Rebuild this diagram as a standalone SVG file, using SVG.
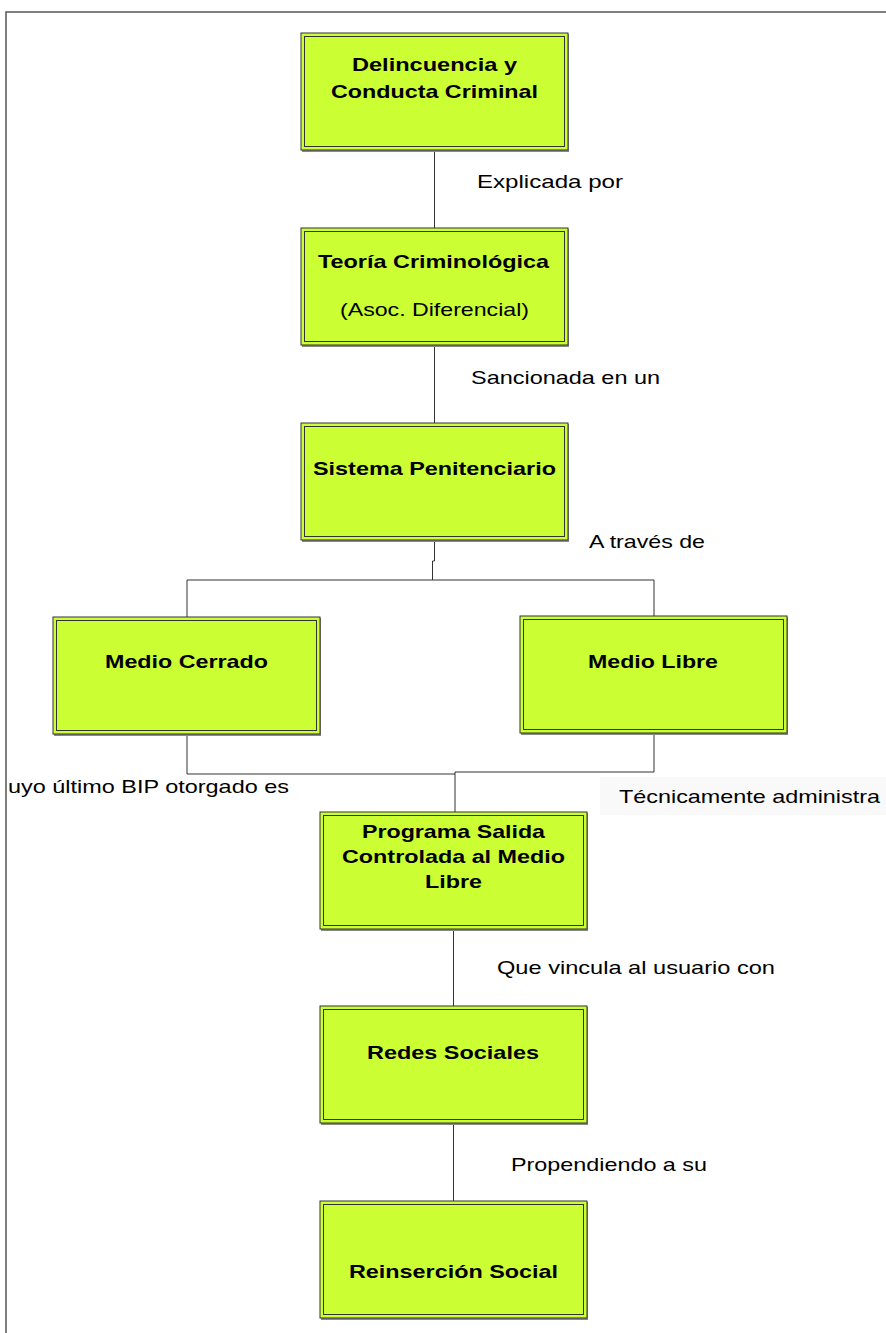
<svg xmlns="http://www.w3.org/2000/svg" width="886" height="1333" viewBox="0 0 886 1333">
<style>
.box{fill:#ccff33;stroke:#333;stroke-width:1}
.inner{fill:none;stroke:#333;stroke-width:1}
.shadow{fill:#888}
.t{font-family:"Liberation Sans",Arial,sans-serif;font-size:18.5px;font-weight:bold;fill:#000;text-anchor:middle}
.l{font-family:"Liberation Sans",Arial,sans-serif;font-size:18.5px;fill:#000}
.c{fill:none;stroke:#333;stroke-width:1}
</style>
<rect width="886" height="1333" fill="#fff"/>
<path d="M6,1333 V12 H886" fill="none" stroke="#555" stroke-width="1.5"/>

<g id="connectors">
<path class="c" d="M434.5,151 V228"/>
<path class="c" d="M434.5,346 V423"/>
<path class="c" d="M434.5,540 V561 H432.5 V580"/>
<path class="c" d="M187,617 V580 H654 V616"/>
<path class="c" d="M187,733 V774 H455"/>
<path class="c" d="M654,733 V772 H455 V812"/>
<path class="c" d="M453.5,929 V1006"/>
<path class="c" d="M453.5,1123 V1201"/>
</g>

<g id="labels">
<text class="l" x="477" y="188" textLength="146" lengthAdjust="spacingAndGlyphs">Explicada por</text>
<text class="l" x="471" y="384" textLength="189" lengthAdjust="spacingAndGlyphs">Sancionada en un</text>
<text class="l" x="589" y="548" textLength="116" lengthAdjust="spacingAndGlyphs">A través de</text>
<rect x="600" y="777" width="286" height="38" fill="#f9f9f9"/>
<text class="l" x="619" y="803" textLength="261" lengthAdjust="spacingAndGlyphs">Técnicamente administra</text>
<text class="l" x="8" y="793" textLength="281" lengthAdjust="spacingAndGlyphs">uyo último BIP otorgado es</text>
<text class="l" x="497" y="974" textLength="278" lengthAdjust="spacingAndGlyphs">Que vincula al usuario con</text>
<text class="l" x="511" y="1171" textLength="196" lengthAdjust="spacingAndGlyphs">Propendiendo a su</text>
</g>

<g id="n1">
<rect class="shadow" x="302" y="34" width="267" height="118"/>
<rect class="box" x="301" y="33" width="267" height="117"/>
<rect class="inner" x="304.5" y="36.5" width="260" height="110"/>
<text class="t" x="434.5" y="71" textLength="165" lengthAdjust="spacingAndGlyphs">Delincuencia y</text>
<text class="t" x="434.5" y="98" textLength="207" lengthAdjust="spacingAndGlyphs">Conducta Criminal</text>
</g>

<g id="n2">
<rect class="shadow" x="302" y="229" width="267" height="118"/>
<rect class="box" x="301" y="228" width="267" height="117"/>
<rect class="inner" x="304.5" y="231.5" width="260" height="110"/>
<text class="t" x="433.5" y="268" textLength="231" lengthAdjust="spacingAndGlyphs">Teoría Criminológica</text>
<text class="l" x="434.5" y="316" text-anchor="middle" textLength="189" lengthAdjust="spacingAndGlyphs">(Asoc. Diferencial)</text>
</g>

<g id="n3">
<rect class="shadow" x="302" y="424" width="267" height="118"/>
<rect class="box" x="301" y="423" width="267" height="117"/>
<rect class="inner" x="304.5" y="426.5" width="260" height="110"/>
<text class="t" x="434.5" y="475" textLength="243" lengthAdjust="spacingAndGlyphs">Sistema Penitenciario</text>
</g>

<g id="n4">
<rect class="shadow" x="54" y="618" width="267" height="118"/>
<rect class="box" x="53" y="617" width="267" height="117"/>
<rect class="inner" x="56.5" y="620.5" width="260" height="110"/>
<text class="t" x="186.5" y="668" textLength="163" lengthAdjust="spacingAndGlyphs">Medio Cerrado</text>
</g>

<g id="n5">
<rect class="shadow" x="521" y="617" width="267" height="118"/>
<rect class="box" x="520" y="616" width="267" height="117"/>
<rect class="inner" x="523.5" y="619.5" width="260" height="110"/>
<text class="t" x="653" y="668" textLength="130" lengthAdjust="spacingAndGlyphs">Medio Libre</text>
</g>

<g id="n6">
<rect class="shadow" x="321" y="813" width="267" height="118"/>
<rect class="box" x="320" y="812" width="267" height="117"/>
<rect class="inner" x="323.5" y="815.5" width="260" height="110"/>
<text class="t" x="453.5" y="838" textLength="183" lengthAdjust="spacingAndGlyphs">Programa Salida</text>
<text class="t" x="453.5" y="863" textLength="223" lengthAdjust="spacingAndGlyphs">Controlada al Medio</text>
<text class="t" x="453.5" y="888" textLength="57" lengthAdjust="spacingAndGlyphs">Libre</text>
</g>

<g id="n7">
<rect class="shadow" x="321" y="1007" width="267" height="118"/>
<rect class="box" x="320" y="1006" width="267" height="117"/>
<rect class="inner" x="323.5" y="1009.5" width="260" height="110"/>
<text class="t" x="453" y="1059" textLength="172" lengthAdjust="spacingAndGlyphs">Redes Sociales</text>
</g>

<g id="n8">
<rect class="shadow" x="321" y="1202" width="267" height="118"/>
<rect class="box" x="320" y="1201" width="267" height="117"/>
<rect class="inner" x="323.5" y="1204.5" width="260" height="110"/>
<text class="t" x="453.5" y="1278" textLength="209" lengthAdjust="spacingAndGlyphs">Reinserción Social</text>
</g>
</svg>
